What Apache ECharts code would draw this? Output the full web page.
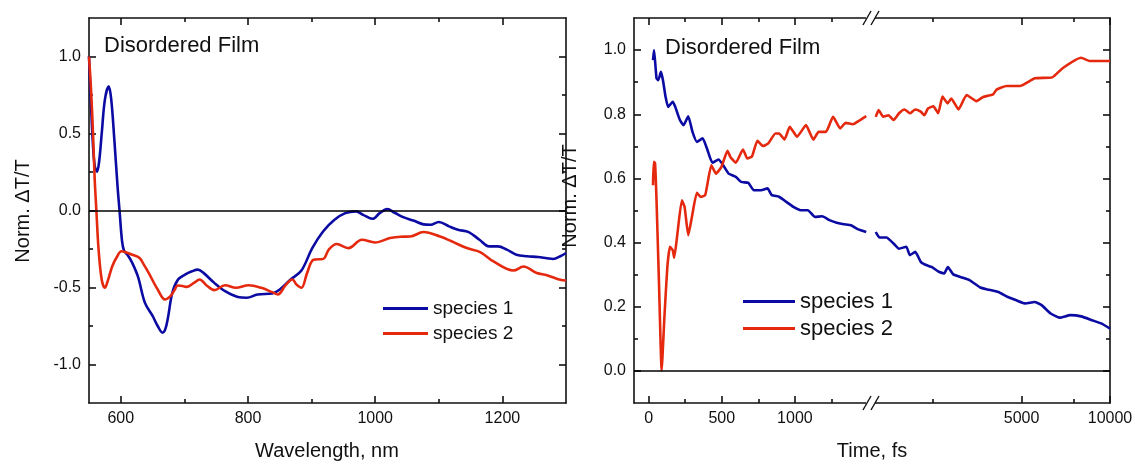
<!DOCTYPE html>
<html>
<head>
<meta charset="utf-8">
<title>Disordered Film</title>
<script src="https://cdn.jsdelivr.net/npm/echarts@6/dist/echarts.min.js"></script>
<style>
  html, body { margin: 0; padding: 0; background: #fff; }
  #main { width: 1135px; height: 464px; }
</style>
</head>
<body>
<div id="main"></div>
<script>
// ---- left panel: spectra (nm) ----
var wl1 = [550, 553, 556, 559, 562.6, 566, 570, 575, 581, 585, 590, 595, 598, 602, 605, 611, 618, 627, 638, 650,
    658, 665.6, 670, 674, 681, 690, 701, 712, 721, 730, 747, 764, 784, 798, 815, 838, 850, 867, 884, 901,
    918, 936, 953, 970, 981, 996, 1007, 1019, 1030, 1044, 1061, 1076, 1087, 1100, 1116, 1130, 1147, 1164, 1179, 1193,
    1207, 1222, 1239, 1256, 1270, 1280, 1291, 1300];
var spec1 = [1.0, 0.70, 0.44, 0.29, 0.252, 0.32, 0.50, 0.72, 0.806, 0.72, 0.45, 0.15, 0.0, -0.20, -0.26, -0.29, -0.34, -0.43, -0.60, -0.685,
    -0.75, -0.793, -0.77, -0.70, -0.534, -0.448, -0.416, -0.395, -0.384, -0.405, -0.47, -0.524, -0.562, -0.567, -0.545, -0.539, -0.513, -0.448, -0.39, -0.244,
    -0.136, -0.06, -0.017, -0.006, -0.028, -0.054, -0.017, 0.009, -0.013, -0.043, -0.067, -0.09, -0.093, -0.075, -0.103, -0.125, -0.14, -0.19, -0.233, -0.233,
    -0.254, -0.287, -0.297, -0.302, -0.31, -0.315, -0.297, -0.276];
var wl2 = [550, 553, 556.3, 559, 561.6, 565, 570, 575, 580, 586.6, 594, 601, 606.6, 618, 629.5, 636, 643.8, 658, 669.6, 678,
    684, 689.6, 697, 704, 715, 724, 735, 747, 764, 781, 801, 821, 838, 847, 858, 866, 870, 876, 884, 893,
    903, 918.5, 927, 939.5, 957.8, 979, 999.8, 1023.5, 1040, 1055, 1076, 1102, 1120, 1144, 1165, 1186, 1217.5, 1233, 1254, 1270,
    1291, 1300];
var spec2 = [1.0, 0.8, 0.5, 0.2, 0.0, -0.25, -0.45, -0.502, -0.45, -0.362, -0.3, -0.265, -0.27, -0.287, -0.308, -0.35, -0.405, -0.513, -0.578, -0.556,
    -0.52, -0.487, -0.49, -0.496, -0.47, -0.448, -0.487, -0.517, -0.485, -0.502, -0.485, -0.502, -0.53, -0.545, -0.491, -0.455, -0.448, -0.48, -0.502, -0.405,
    -0.32, -0.314, -0.254, -0.218, -0.244, -0.19, -0.208, -0.179, -0.17, -0.169, -0.14, -0.169, -0.2, -0.244, -0.27, -0.331, -0.39, -0.364, -0.406, -0.42,
    -0.45, -0.455];

// ---- right panel: kinetics (fs), linear part + log part ----
var tLin1 = [30, 37, 54, 66, 84, 98, 116, 133, 165, 182, 214, 239, 271, 300, 330, 369, 399, 436, 478, 510,
    547, 596, 633, 682, 719, 768, 813, 842, 892, 941, 990, 1039, 1089, 1138, 1187, 1236, 1286, 1335, 1384, 1433, 1488];
var kinLin1 = [0.969, 1.0, 0.912, 0.906, 0.932, 0.906, 0.854, 0.823, 0.839, 0.823, 0.782, 0.766, 0.794, 0.745, 0.714, 0.725, 0.693, 0.649, 0.659, 0.641,
    0.615, 0.605, 0.589, 0.586, 0.563, 0.563, 0.569, 0.548, 0.543, 0.527, 0.511, 0.501, 0.501, 0.48, 0.482, 0.47, 0.462, 0.457, 0.454, 0.441, 0.433];
var tLog1 = [1594, 1639, 1733, 1833, 1913, 2025, 2083, 2173, 2268, 2366, 2470, 2613, 2726, 2805, 2926, 3141, 3323, 3616, 3828, 4168,
    4470, 4800, 5152, 5530, 5850, 6280, 6740, 7330, 7980, 8690, 9330, 10000];
var kinLog1 = [0.433, 0.416, 0.416, 0.397, 0.381, 0.387, 0.361, 0.371, 0.34, 0.33, 0.324, 0.309, 0.304, 0.324, 0.301, 0.291, 0.283, 0.26, 0.254, 0.246,
    0.231, 0.22, 0.21, 0.215, 0.205, 0.179, 0.166, 0.174, 0.17, 0.158, 0.148, 0.132];
var tLin2 = [30, 35, 44, 54, 71, 89, 108, 128, 146, 165, 175, 197, 227, 246, 271, 296, 330, 355, 387, 429,
    461, 498, 539, 559, 596, 645, 675, 707, 744, 781, 818, 867, 892, 929, 965, 1015, 1076, 1126, 1163, 1212,
    1261, 1310, 1347, 1397, 1446, 1488];
var kinLin2 = [0.579, 0.652, 0.647, 0.532, 0.272, 0.002, 0.168, 0.324, 0.387, 0.376, 0.353, 0.428, 0.532, 0.511, 0.423, 0.48, 0.555, 0.543, 0.548, 0.641,
    0.615, 0.636, 0.686, 0.667, 0.649, 0.69, 0.662, 0.669, 0.717, 0.701, 0.709, 0.74, 0.74, 0.721, 0.761, 0.73, 0.766, 0.721, 0.745, 0.745,
    0.792, 0.756, 0.773, 0.769, 0.782, 0.794];
var tLog2 = [1594, 1630, 1690, 1762, 1833, 1913, 1996, 2083, 2173, 2268, 2333, 2400, 2505, 2600, 2690, 2800, 2880, 3050, 3250, 3510,
    3700, 4000, 4110, 4440, 4935, 5550, 6360, 6930, 7970, 8540, 10000];
var kinLog2 = [0.792, 0.813, 0.792, 0.797, 0.782, 0.803, 0.815, 0.803, 0.815, 0.808, 0.797, 0.818, 0.825, 0.803, 0.855, 0.834, 0.849, 0.815, 0.86, 0.841,
    0.854, 0.862, 0.877, 0.888, 0.888, 0.912, 0.915, 0.945, 0.976, 0.966, 0.966];

// tick positions
var wlMajor = [600, 800, 1000, 1200];
var wlMinor = [700, 900, 1100];
var specMajor = [-1, -0.5, 0, 0.5, 1];
var specMinor = [-0.75, -0.25, 0.25, 0.75];
var tLinMajor = [0, 500, 1000];
var tLinMinor = [250, 750, 1250];
var tLogMajor = [5000, 10000];
var tLogMinor = [2500, 7500];
var kinMajor = [0, 0.2, 0.4, 0.6, 0.8, 1.0];
var kinMinor = [0.1, 0.3, 0.5, 0.7, 0.9];

var BLK = '#111';
var BLUE = '#0b0ba3';
var RED = '#e4290f';
var FONT = 'Arial, "Liberation Sans", sans-serif';

function pairs(xs, ys) {
    return xs.map(function (x, i) { return [x, ys[i]]; });
}

// one axis = one set of ticks (major or minor), ticks drawn inside like Origin
function ax(grid, pos, type, min, max, ticks, len, labels, line, fmt) {
    return {
        type: type,
        gridIndex: grid,
        position: pos,
        min: min,
        max: max,
        logBase: 10,
        axisLine: { show: !!line, onZero: false, lineStyle: { color: BLK, width: 1.6 } },
        axisTick: { show: true, inside: true, length: len, customValues: ticks, lineStyle: { color: BLK, width: 1.6 } },
        axisLabel: labels ? { show: true, customValues: labels, margin: 8, color: BLK, fontSize: 16, fontFamily: FONT, formatter: fmt } : { show: false },
        splitLine: { show: false },
        minorTick: { show: false }
    };
}

var fmt1 = function (v) { return v.toFixed(1); };
var fmt0 = function (v) { return String(v); };

var xAxes = [
    // grid 0 (spectra)
    ax(0, 'bottom', 'value', 550, 1300, wlMajor, 7, wlMajor, true, fmt0),
    ax(0, 'bottom', 'value', 550, 1300, wlMinor, 4),
    ax(0, 'top', 'value', 550, 1300, wlMajor, 7, null, true),
    ax(0, 'top', 'value', 550, 1300, wlMinor, 4),
    // grid 1 (kinetics, linear)
    ax(1, 'bottom', 'value', -100, 1500, tLinMajor, 7, tLinMajor, true, fmt0),
    ax(1, 'bottom', 'value', -100, 1500, tLinMinor, 4),
    ax(1, 'top', 'value', -100, 1500, tLinMajor, 7, null, true),
    ax(1, 'top', 'value', -100, 1500, tLinMinor, 4),
    // grid 2 (kinetics, log)
    ax(2, 'bottom', 'log', 1500, 10000, tLogMajor, 7, tLogMajor, true, fmt0),
    ax(2, 'bottom', 'log', 1500, 10000, tLogMinor, 4),
    ax(2, 'top', 'log', 1500, 10000, tLogMajor, 7, null, true),
    ax(2, 'top', 'log', 1500, 10000, tLogMinor, 4)
];
var yAxes = [
    ax(0, 'left', 'value', -1.25, 1.25, specMajor, 7, specMajor, true, fmt1),
    ax(0, 'left', 'value', -1.25, 1.25, specMinor, 4),
    ax(0, 'right', 'value', -1.25, 1.25, specMajor, 7, null, true),
    ax(0, 'right', 'value', -1.25, 1.25, specMinor, 4),
    ax(1, 'left', 'value', -0.1, 1.1, kinMajor, 7, kinMajor, true, fmt1),
    ax(1, 'left', 'value', -0.1, 1.1, kinMinor, 4),
    ax(2, 'right', 'value', -0.1, 1.1, kinMajor, 7, null, true),
    ax(2, 'right', 'value', -0.1, 1.1, kinMinor, 4)
];

var zeroLine = {
    silent: true,
    symbol: ['none', 'none'],
    label: { show: false },
    lineStyle: { color: '#000', width: 1.5, type: 'solid' },
    data: [{ yAxis: 0 }]
};

function line(name, color, xi, yi, data, smooth, mark) {
    var s = {
        name: name,
        type: 'line',
        xAxisIndex: xi,
        yAxisIndex: yi,
        data: data,
        symbol: 'none',
        smooth: smooth,
        lineStyle: { color: color, width: 2.6 },
        itemStyle: { color: color },
        z: 3
    };
    if (mark) s.markLine = zeroLine;
    return s;
}

function txt(x, y, s, size, rot) {
    return {
        type: 'text', x: x, y: y, rotation: rot || 0, z: 10,
        style: {
            text: s, fill: BLK, font: size + 'px ' + FONT,
            align: 'center', verticalAlign: 'middle', textAlign: 'center', textVerticalAlign: 'middle'
        }
    };
}
function leftTxt(x, y, s, size) {
    var t = txt(x, y, s, size);
    t.style.align = 'left';
    t.style.textAlign = 'left';
    return t;
}
function slash(x, y) {
    return { type: 'line', z: 10, shape: { x1: x, y1: y + 7, x2: x + 8, y2: y - 7 }, style: { stroke: BLK, lineWidth: 1.4 } };
}

var chart = echarts.init(document.getElementById('main'), null, { renderer: 'canvas' });
chart.setOption({
    animation: false,
    backgroundColor: '#fff',
    grid: [
        { left: 89, top: 18, width: 477, height: 385, containLabel: false, outerBoundsMode: 'none' },
        { left: 634, top: 18, width: 234, height: 385, containLabel: false, outerBoundsMode: 'none' },
        { left: 868, top: 18, width: 242, height: 385, containLabel: false, outerBoundsMode: 'none' }
    ],
    xAxis: xAxes,
    yAxis: yAxes,
    legend: [
        {
            orient: 'vertical', left: 378, top: 291, itemWidth: 45, itemHeight: 3, itemGap: 0, icon: 'rect',
            data: ['species 1', 'species 2'],
            textStyle: { color: BLK, fontSize: 19, lineHeight: 25, fontFamily: FONT }
        },
        {
            orient: 'vertical', left: 738, top: 283, itemWidth: 52, itemHeight: 3, itemGap: 0, icon: 'rect',
            data: ['species 1', 'species 2'],
            textStyle: { color: BLK, fontSize: 22, lineHeight: 27, fontFamily: FONT }
        }
    ],
    graphic: [
        leftTxt(104, 46, 'Disordered Film', 22),
        leftTxt(665, 48, 'Disordered Film', 22),
        txt(327, 451, 'Wavelength, nm', 20),
        txt(872, 451, 'Time, fs', 20),
        txt(23, 211, 'Norm. ΔT/T', 20, Math.PI / 2),
        txt(570, 196, 'Norm. ΔT/T', 20, Math.PI / 2),
        // axis break marks
        { type: 'rect', z: 9, shape: { x: 866, y: 16, width: 9, height: 4 }, style: { fill: '#fff' } },
        { type: 'rect', z: 9, shape: { x: 866, y: 401, width: 9, height: 4 }, style: { fill: '#fff' } },
        slash(863, 18), slash(871, 18),
        slash(863, 403), slash(871, 403)
    ],
    series: [
        line('species 1', BLUE, 0, 0, pairs(wl1, spec1), 0.35, true),
        line('species 2', RED, 0, 0, pairs(wl2, spec2), 0.35, false),
        line('species 1', BLUE, 4, 4, pairs(tLin1, kinLin1), 0.15, true),
        line('species 2', RED, 4, 4, pairs(tLin2, kinLin2), 0.15, false),
        line('species 1', BLUE, 8, 6, pairs(tLog1, kinLog1), 0.15, true),
        line('species 2', RED, 8, 6, pairs(tLog2, kinLog2), 0.15, false)
    ]
});
</script>
</body>
</html>
